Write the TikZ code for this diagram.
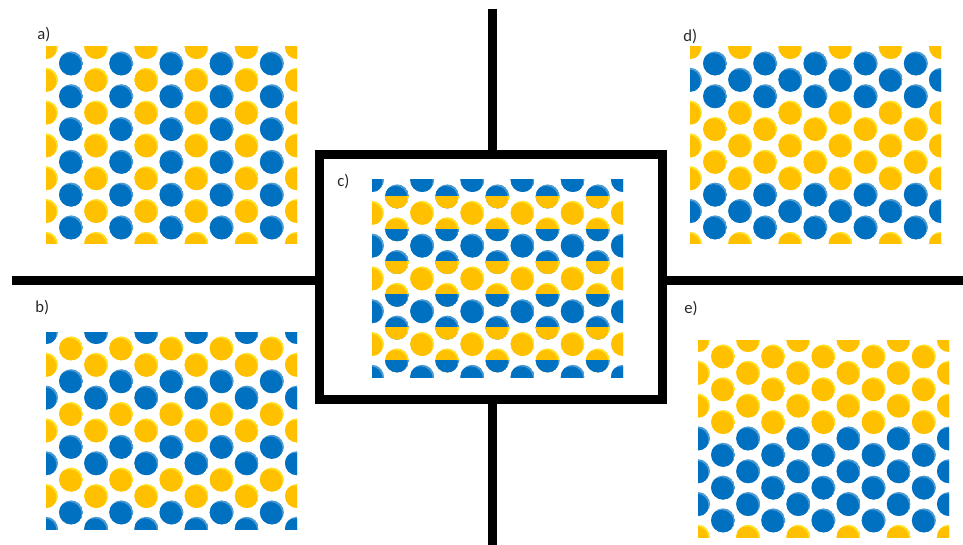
\documentclass[tikz,border=0pt]{standalone}
\usepackage{fontspec}
\setmainfont{Carlito}
\usepackage{tikz}
\usetikzlibrary{positioning,calc}
\definecolor{ballblue}{RGB}{0, 112, 192}
\definecolor{ballyellow}{RGB}{255, 192, 0}
\colorlet{blueLt}{ballblue!70!white}
\colorlet{yellowLt}{ballyellow!55!yellow!85!white}
\colorlet{lbltext}{black!85}
\tikzset{
  lbl/.style={anchor=west,inner sep=0pt,text=lbltext,
              font=\fontsize{12.5}{14}\selectfont},
  bar/.style={line width=6.75pt,draw=black},
  frame/.style={draw=black,line width=6.75pt,minimum width=257.25pt,
                minimum height=183pt,inner sep=0pt},
}
% one shaded ball: light colour, main colour, x, y
\newcommand\shball[4]{%
  \begin{scope}
    \clip (#3,#4) circle[radius=12];
    \fill[#1] (#3,#4) circle[radius=12];
    \fill[#2] (#3-1.6,#4+1.6) circle[radius=12];
  \end{scope}}
% ball with upper half in one colour, lower half in the other
\newcommand\splitball[6]{%
  \shball{#1}{#2}{#5}{#6}
  \begin{scope}
    \clip (#5-13,#6) rectangle (#5+13,#6+13);
    \shball{#3}{#4}{#5}{#6}
  \end{scope}}
\newcommand\ball[3]{%
  \if B#1\shball{blueLt}{ballblue}{#2}{#3}\fi
  \if Y#1\shball{yellowLt}{ballyellow}{#2}{#3}\fi
  \if S#1\splitball{blueLt}{ballblue}{yellowLt}{ballyellow}{#2}{#3}\fi
  \if T#1\splitball{yellowLt}{ballyellow}{blueLt}{ballblue}{#2}{#3}\fi}
% panel: top left corner x, y, colour of each half row
\newcommand\drawpanel[3]{%
  \begin{scope}
    \clip (#1,#2) rectangle ++(251,197);
    \foreach \kind [count=\m from 0] in {#3}{
      \pgfmathtruncatemacro\st{mod(\m,2)}
      \pgfmathtruncatemacro\stb{\st+2}
      \foreach \i in {\st,\stb,...,10}{
        \pgfmathsetmacro\bx{#1+25.1*\i}
        \pgfmathsetmacro\by{#2+16.4*\m}
        \ball{\kind}{\bx}{\by}
      }
    }
  \end{scope}}

\begin{document}
\begin{tikzpicture}[x=0.75pt,y=-0.75pt]
  \useasboundingbox (0,0) rectangle (963,545);
  % cross and frame
  \node[frame] (boxc) at (490.5,277) {};
  \coordinate (topend) at (492.5,9);
  \coordinate (botend) at (492.5,545);
  \coordinate (leftend) at (12,280.5);
  \coordinate (rightend) at (963,280.5);
  \draw[bar] (topend) -- (topend |- boxc.north);
  \draw[bar] (botend |- boxc.south) -- (botend);
  \draw[bar] (leftend) -- (leftend -| boxc.west);
  \draw[bar] (rightend -| boxc.east) -- (rightend);
  % the five lattices
  \drawpanel{46}{47}{Y,B,Y,B,Y,B,Y,B,Y,B,Y,B,Y}
  \drawpanel{46}{332}{B,Y,Y,B,B,Y,Y,B,B,Y,Y,B,B}
  \drawpanel{372}{180}{B,S,Y,T,B,S,Y,T,B,S,Y,T,B}
  \drawpanel{690}{47}{Y,B,B,B,Y,Y,Y,Y,Y,B,B,B,Y}
  \drawpanel{698}{340}{Y,Y,Y,Y,Y,Y,B,B,B,B,B,B,Y}
  % labels
  \node[lbl] (la) at (37,35) {a)};
  \node[lbl] (lb) at (35,308) {b)};
  \node[lbl] (lc) at (337,182) {c)};
  \node[lbl] (ld) at (683,37) {d)};
  \node[lbl] (le) at (684,309) {e)};
\end{tikzpicture}
\end{document}
